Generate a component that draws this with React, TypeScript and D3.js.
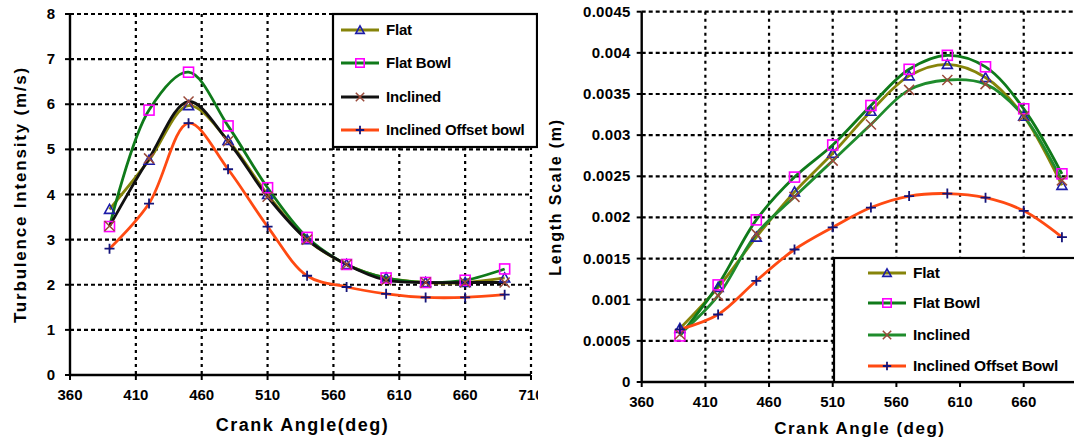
import * as d3 from "d3";

// crank angle samples shared by both panels
const angles = [390, 420, 450, 480, 510, 540, 570, 600, 630, 660, 690];
const xTicks = [360, 410, 460, 510, 560, 610, 660, 710];

// turbulence intensity (m/s)
const tiFlat = [3.67, 4.76, 5.97, 5.2, 4.0, 3.0, 2.45, 2.15, 2.05, 2.05, 2.15];
const tiFlatBowl = [3.29, 5.87, 6.71, 5.52, 4.15, 3.05, 2.45, 2.15, 2.05, 2.1, 2.35];
const tiInclined = [3.3, 4.8, 6.06, 5.18, 3.95, 3.0, 2.45, 2.1, 2.05, 2.05, 2.05];
const tiOffset = [2.8, 3.8, 5.58, 4.56, 3.29, 2.2, 1.95, 1.8, 1.72, 1.72, 1.78];
const tiTicks = [0, 1, 2, 3, 4, 5, 6, 7, 8];

// length scale (m)
const lsFlat = [0.00065, 0.00115, 0.00176, 0.00231, 0.00278, 0.00329, 0.00372, 0.00386, 0.0037, 0.00323, 0.00239];
const lsFlatBowl = [0.00056, 0.00118, 0.00197, 0.00249, 0.00288, 0.00336, 0.0038, 0.00397, 0.00383, 0.00332, 0.00253];
const lsInclined = [0.00058, 0.00105, 0.0018, 0.00225, 0.00269, 0.00313, 0.00355, 0.00367, 0.00362, 0.00323, 0.00245];
const lsOffset = [0.00064, 0.00082, 0.00123, 0.00161, 0.00188, 0.00212, 0.00226, 0.00229, 0.00224, 0.00208, 0.00176];
const lsTicks = [0, 0.0005, 0.001, 0.0015, 0.002, 0.0025, 0.003, 0.0035, 0.004, 0.0045];
const lsTickLabels = ["0", "0.0005", "0.001", "0.0015", "0.002", "0.0025", "0.003", "0.0035", "0.004", "0.0045"];

const leftNames = ["Flat", "Flat Bowl", "Inclined", "Inclined Offset bowl"];
const rightNames = ["Flat", "Flat Bowl", "Inclined", "Inclined Offset Bowl"];

const FONT = "'Liberation Sans', Arial, sans-serif";
const OLIVE = "#86840a", GREEN = "#0f7a1a", GREEN2 = "#1f8c2c", ORANGE = "#ff4a12";

type Marker = "tri" | "sq" | "x" | "plus";

function MarkerShape({ kind, cx, cy, s = 5 }: { kind: Marker; cx: number; cy: number; s?: number }) {
  if (kind === "tri")
    return <path d={`M${cx},${cy - s} L${cx + s},${cy + s * 0.8} L${cx - s},${cy + s * 0.8} Z`}
      fill="none" stroke="#1c1ca8" strokeWidth={1.6} />;
  if (kind === "sq")
    return <rect x={cx - s} y={cy - s} width={s * 2} height={s * 2} fill="none" stroke="#ff00ff" strokeWidth={1.6} />;
  if (kind === "x")
    return <path d={`M${cx - s},${cy - s} L${cx + s},${cy + s} M${cx - s},${cy + s} L${cx + s},${cy - s}`}
      stroke="#9a4a3a" strokeWidth={1.5} />;
  return <path d={`M${cx - s},${cy} L${cx + s},${cy} M${cx},${cy - s} L${cx},${cy + s}`}
    stroke="#14147a" strokeWidth={1.8} />;
}

type Series = { name: string; values: number[]; color: string; marker: Marker };

type PanelProps = {
  series: Series[];
  x0: number; x1: number; yTop: number; yBot: number;
  yMax: number; yTicks: number[]; yLabels: string[];
  yTitle: string; yTitleX: number; yTitleSize: number;
  xTitle: string; xTitleY: number; xTitleSize: number;
  labelGap: number; yLabelSpacing: number; xLabelMax: number;
  legend: { x: number; y: number; w: number; h: number; lineX: number; rows: number[]; fontSize: number };
  clipId: string; clipX0: number; clipX1: number;
};

function Panel(p: PanelProps) {
  const x = d3.scaleLinear([360, 710], [p.x0, p.x1]);
  const y = d3.scaleLinear([0, p.yMax], [p.yBot, p.yTop]);
  const line = d3.line<number>().x((_, i) => x(angles[i])).y((v) => y(v)).curve(d3.curveCatmullRom.alpha(0.5));
  const L = p.legend;
  return (
    <g clipPath={`url(#${p.clipId})`}>
      <defs>
        <clipPath id={p.clipId}>
          <rect x={p.clipX0} y={0} width={p.clipX1 - p.clipX0} height={447} />
        </clipPath>
      </defs>
      {/* grid */}
      {p.yTicks.filter((t) => t > 0).map((t) => (
        <line key={`h${t}`} x1={p.x0} x2={p.x1} y1={y(t)} y2={y(t)} stroke="#000" strokeWidth={2.2} strokeDasharray="4,3" />
      ))}
      {xTicks.filter((t) => t > 360).map((t) => (
        <line key={`v${t}`} x1={x(t)} x2={x(t)} y1={p.yTop} y2={p.yBot} stroke="#000" strokeWidth={2.2} strokeDasharray="3,4" />
      ))}
      {/* series */}
      {p.series.map((s) => (
        <path key={s.name} d={line(s.values) ?? ""} fill="none" stroke={s.color} strokeWidth={2.8} />
      ))}
      {p.series.map((s) =>
        s.values.map((v, i) => <MarkerShape key={`${s.name}${i}`} kind={s.marker} cx={x(angles[i])} cy={y(v)} />)
      )}
      {/* axes */}
      <line x1={p.x0} x2={p.x1} y1={p.yBot} y2={p.yBot} stroke="#000" strokeWidth={2.4} />
      <line x1={p.x0} x2={p.x0} y1={p.yTop} y2={p.yBot} stroke="#000" strokeWidth={2.4} />
      {p.yTicks.map((t, i) => (
        <g key={`yt${t}`}>
          <line x1={p.x0 - 5} x2={p.x0} y1={y(t)} y2={y(t)} stroke="#000" strokeWidth={2} />
          <text x={p.x0 - p.labelGap} y={y(t) + 5} textAnchor="end" fontFamily={FONT} fontWeight="bold"
            fontSize={15} letterSpacing={p.yLabelSpacing} fill="#000">{p.yLabels[i]}</text>
        </g>
      ))}
      {xTicks.map((t) => (
        <g key={`xt${t}`}>
          <line x1={x(t)} x2={x(t)} y1={p.yBot} y2={p.yBot + 5} stroke="#000" strokeWidth={2} />
          {x(t) <= p.xLabelMax && (
            <text x={x(t)} y={p.yBot + 25} textAnchor="middle" fontFamily={FONT} fontWeight="bold"
              fontSize={15} fill="#000">{t}</text>
          )}
        </g>
      ))}
      <text x={(p.x0 + Math.min(p.x1, 1074)) / 2 + 2} y={p.xTitleY} textAnchor="middle" fontFamily={FONT}
        fontWeight="bold" fontSize={p.xTitleSize} letterSpacing={1.5} fill="#000">{p.xTitle}</text>
      <text transform={`translate(${p.yTitleX},${(p.yTop + p.yBot) / 2}) rotate(-90)`} textAnchor="middle"
        fontFamily={FONT} fontWeight="bold" fontSize={p.yTitleSize} letterSpacing={1.8} fill="#000">{p.yTitle}</text>
      {/* legend */}
      <rect x={L.x} y={L.y} width={L.w} height={L.h} fill="#fff" stroke="#000" strokeWidth={2.2} />
      {p.series.map((s, i) => (
        <g key={`lg${s.name}`}>
          <line x1={L.lineX} x2={L.lineX + 38} y1={L.rows[i]} y2={L.rows[i]} stroke={s.color} strokeWidth={3} />
          <MarkerShape kind={s.marker} cx={L.lineX + 19} cy={L.rows[i]} s={4.2} />
          <text x={L.lineX + 45} y={L.rows[i] + 5} fontFamily={FONT} fontWeight="bold" fontSize={L.fontSize}
            letterSpacing={-0.2} fill="#000">{s.name}</text>
        </g>
      ))}
    </g>
  );
}

export default function App() {
  const left: Series[] = [
    { name: leftNames[0], values: tiFlat, color: OLIVE, marker: "tri" },
    { name: leftNames[1], values: tiFlatBowl, color: GREEN, marker: "sq" },
    { name: leftNames[2], values: tiInclined, color: "#111", marker: "x" },
    { name: leftNames[3], values: tiOffset, color: ORANGE, marker: "plus" },
  ];
  const right: Series[] = [
    { name: rightNames[0], values: lsFlat, color: OLIVE, marker: "tri" },
    { name: rightNames[1], values: lsFlatBowl, color: GREEN, marker: "sq" },
    { name: rightNames[2], values: lsInclined, color: GREEN2, marker: "x" },
    { name: rightNames[3], values: lsOffset, color: ORANGE, marker: "plus" },
  ];
  return (
    <svg width={1074} height={447} style={{ position: "absolute", left: 0, top: 0, background: "#fff" }}>
      <Panel series={left} x0={70} x1={531} yTop={14} yBot={375} yMax={8}
        yTicks={tiTicks} yLabels={tiTicks.map(String)} labelGap={15} yLabelSpacing={0} xLabelMax={540}
        yTitle="Turbulence Intensity (m/s)" yTitleX={26} yTitleSize={17}
        xTitle="Crank Angle(deg)" xTitleY={431} xTitleSize={18}
        legend={{ x: 333, y: 14, w: 204, h: 133, lineX: 341, rows: [30, 63, 97, 130], fontSize: 15 }}
        clipId="clipL" clipX0={0} clipX1={538} />
      <Panel series={right} x0={641.7} x1={1087.4} yTop={11.7} yBot={382} yMax={0.0045}
        yTicks={lsTicks} yLabels={lsTickLabels} labelGap={11} yLabelSpacing={0.3} xLabelMax={1060}
        yTitle="Length Scale (m)" yTitleX={561} yTitleSize={16}
        xTitle="Crank Angle (deg)" xTitleY={434} xTitleSize={17}
        legend={{ x: 834, y: 258, w: 260, h: 124, lineX: 868, rows: [273, 303, 335, 366], fontSize: 15.5 }}
        clipId="clipR" clipX0={540} clipX1={1074} />
    </svg>
  );
}
